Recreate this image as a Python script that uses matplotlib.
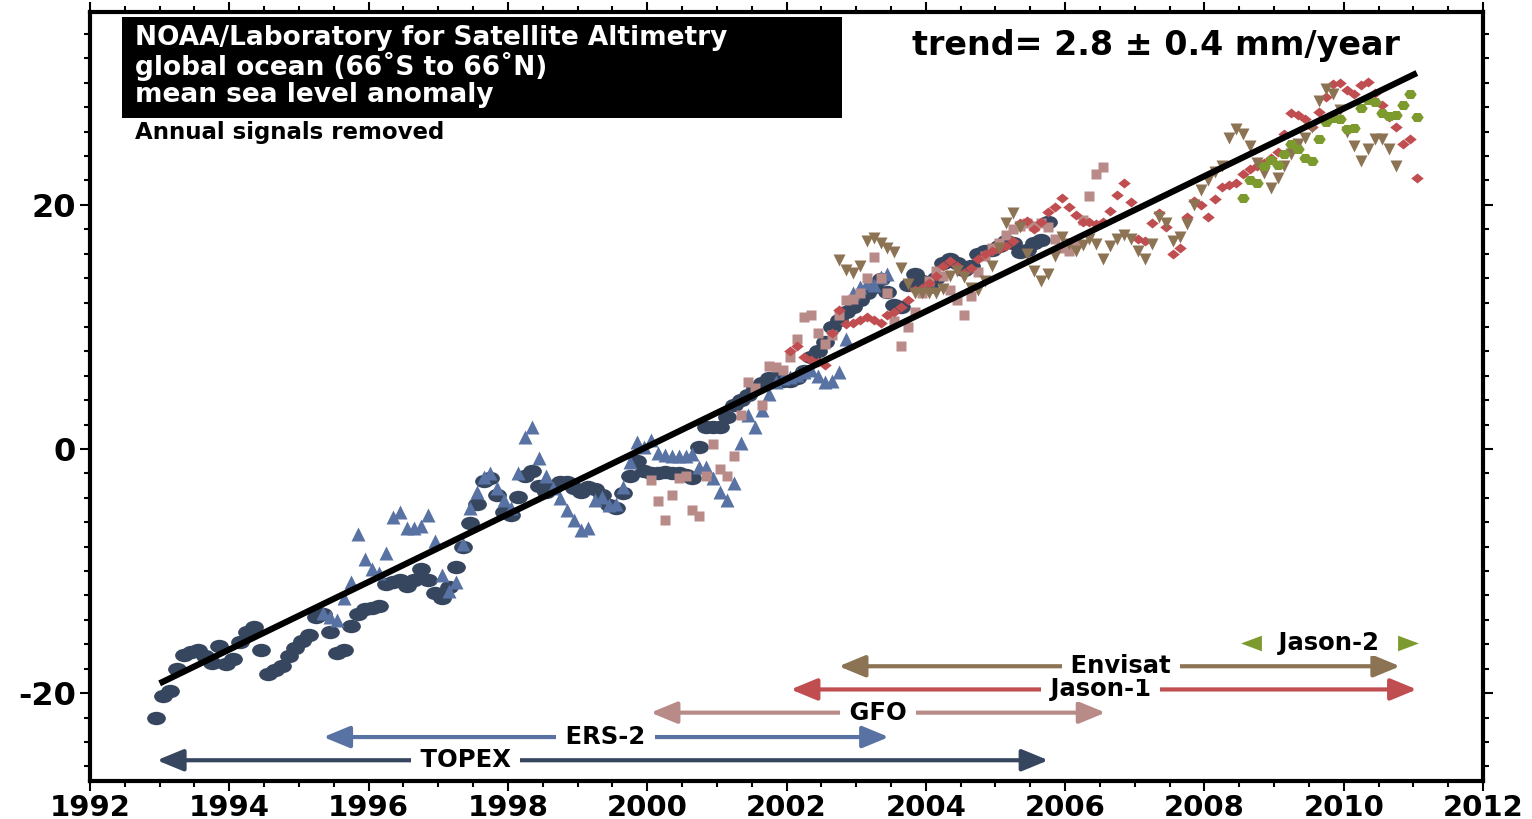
import numpy as np
import matplotlib
matplotlib.use("Agg")
import matplotlib.pyplot as plt
from matplotlib.path import Path
from matplotlib.patches import Rectangle

plt.rcParams["axes.unicode_minus"] = False

# sea level anomaly (mm) per satellite at 0.1 year steps
step = 0.1

topex_start = 1992.95
topex = [-22.0, -20.2, -19.8, -18.0, -16.9, -16.6, -16.5, -17.0, -17.5, -16.1,
         -17.6, -17.2, -15.8, -15.0, -14.6, -16.5, -18.4, -18.1, -17.8, -17.0,
         -16.3, -15.7, -15.2, -13.8, -13.5, -15.0, -16.7, -16.5, -14.5, -13.5,
         -13.1, -13.0, -12.9, -11.1, -10.9, -10.7, -11.2, -10.7, -9.8, -10.7,
         -11.8, -12.2, -11.3, -9.7, -8.0, -6.1, -4.5, -2.6, -2.4, -3.8,
         -5.2, -5.4, -3.9, -2.2, -1.8, -3.0, -3.5, -3.2, -2.7, -2.7,
         -3.2, -3.5, -3.1, -3.3, -3.8, -4.6, -4.8, -3.6, -2.2, -1.0,
         -1.8, -2.0, -2.0, -1.9, -2.0, -2.0, -2.1, -2.4, 0.2, 1.8,
         1.8, 1.8, 2.6, 3.6, 4.0, 4.4, 5.0, 5.4, 5.8, 5.9,
         5.6, 5.6, 5.8, 6.4, 7.5, 8.0, 8.8, 10.0, 10.6, 11.2,
         11.6, 12.2, 12.8, 13.3, 13.9, 12.9, 11.8, 11.6, 13.4, 14.3,
         13.8, 13.3, 14.0, 15.2, 15.6, 15.2, 14.7, 15.0, 16.0, 16.2,
         16.3, 16.6, 17.0, 16.9, 16.1, 16.3, 16.9, 17.1, 18.6]

ers2_start = 1995.35
ers2 = [-13.4, -13.8, -14.0, -12.2, -10.9, -7.0, -9.0, -9.8, -10.2, -8.5,
        -5.6, -5.2, -6.5, -6.5, -6.3, -5.4, -7.5, -10.3, -11.6, -10.9,
        -7.8, -4.8, -3.5, -2.3, -2.0, -3.2, -4.2, -4.8, -2.0, 1.0,
        1.8, -0.7, -2.2, -3.2, -4.0, -5.0, -5.8, -6.6, -6.5, -4.2,
        -3.9, -4.6, -4.5, -3.1, -1.1, 0.6, 0.2, 0.7, -0.3, -0.5,
        -0.6, -0.6, -0.6, -0.4, -1.5, -1.5, -2.4, -3.5, -4.2, -2.8,
        0.5, 2.8, 1.8, 3.2, 4.5, 5.5, 5.8, 5.9, 6.1, 6.3,
        6.5, 6.0, 5.5, 5.6, 6.3, 9.0, 12.8, 13.3, 13.6, 13.4,
        14.1, 14.3]

gfo_start = 2000.05
gfo = [-2.5, -4.3, -5.8, -3.8, -2.4, -2.2, -5.0, -5.5, -2.2, 0.4,
       -1.6, -2.2, -0.6, 2.8, 5.5, 5.0, 3.6, 6.8, 6.7, 6.5,
       7.5, 9.0, 10.8, 11.0, 9.5, 8.6, 9.3, 11.0, 12.2, 12.3,
       12.8, 14.0, 15.7, 14.0, 12.8, 10.5, 8.4, 10.0, 11.2, 12.8,
       13.8, 14.6, 14.2, 13.0, 12.2, 11.0, 12.5, 14.5, 15.8, 16.5,
       16.9, 17.5, 18.0, 18.3, 18.5, 18.3, 18.5, 18.2, 17.2, 16.5,
       16.2, 16.9, 18.8, 20.7, 22.5, 23.1]

jason1_start = 2002.05
jason1 = [8.0, 8.4, 7.5, 7.3, 7.1, 6.9, 9.5, 11.4, 10.2, 10.3,
          10.6, 10.8, 10.6, 10.3, 11.0, 11.2, 11.6, 12.2, 13.0, 13.2,
          13.6, 14.2, 15.0, 15.4, 15.0, 14.4, 14.8, 15.6, 16.0, 16.2,
          16.4, 16.6, 17.0, 18.5, 18.7, 18.0, 18.6, 19.4, 19.8, 20.6,
          19.8, 19.2, 18.6, 18.6, 18.4, 18.6, 19.5, 20.8, 21.8, 20.2,
          17.2, 17.0, 18.5, 19.3, 18.2, 16.0, 16.5, 19.0, 20.3, 20.0,
          19.0, 20.5, 21.5, 21.6, 21.8, 22.5, 22.9, 23.2, 23.4, 23.8,
          24.3, 25.8, 27.5, 27.4, 27.0, 26.4, 27.6, 28.8, 29.9, 30.0,
          29.4, 29.1, 29.8, 30.1, 29.2, 28.2, 27.2, 26.4, 25.0, 25.4,
          22.2]

envisat_start = 2002.75
envisat = [15.5, 14.7, 14.4, 15.0, 17.0, 17.3, 16.9, 16.5, 16.1, 14.8,
           13.5, 12.8, 12.8, 12.8, 12.8, 13.1, 14.2, 14.6, 14.1, 13.2,
           13.0, 13.8, 15.0, 16.5, 18.5, 19.3, 18.2, 16.0, 14.6, 13.8,
           14.3, 15.8, 17.4, 16.8, 16.2, 16.7, 17.2, 16.8, 15.6, 16.6,
           17.2, 17.5, 17.2, 16.2, 15.6, 16.8, 19.0, 18.5, 17.0, 17.4,
           18.4, 20.0, 21.2, 22.0, 22.7, 23.2, 25.5, 26.2, 25.8, 24.8,
           23.4, 22.6, 21.4, 22.2, 23.2, 24.2, 25.0, 25.5, 26.4, 28.5,
           29.5, 29.1, 27.8, 26.0, 24.8, 23.6, 24.6, 25.4, 25.4, 24.6,
           23.2]

jason2_start = 2008.55
jason2 = [20.6, 22.0, 21.8, 23.2, 23.7, 23.3, 24.2, 25.0, 24.6, 23.8,
          23.6, 25.4, 26.8, 27.1, 27.0, 26.2, 26.3, 27.9, 28.6, 28.4,
          27.5, 27.3, 27.4, 28.2, 29.1, 27.2]

trend_years = [1993.0, 2011.05]
trend_vals = [-19.2, 30.8]

# mission timelines at the bottom
missions = ["TOPEX", "ERS-2", "GFO", "Jason-1", "Envisat", "Jason-2"]
mission_from = [1992.96, 1995.35, 2000.05, 2002.06, 2002.75, 2008.55]
mission_to = [2005.76, 2003.47, 2006.58, 2011.05, 2010.81, 2011.05]
mission_row = [-25.5, -23.6, -21.6, -19.7, -17.8, -15.9]
mission_label_x = [1997.39, 1999.4, 2003.31, 2006.51, 2006.8, 2009.79]

c_topex = "#37465f"
c_ers2 = "#5872a3"
c_gfo = "#b98b88"
c_jason1 = "#c04e50"
c_envisat = "#8c7354"
c_jason2 = "#7d9a2e"
colors = [c_topex, c_ers2, c_gfo, c_jason1, c_envisat, c_jason2]


def stretched(verts, sx):
    v = np.array(verts, dtype=float)
    v[:, 0] *= sx
    return Path(v)


circ = Path.unit_circle()
ellipse = Path(circ.vertices * [1.4, 1.0], circ.codes)
diamond = stretched([(0, 1), (1, 0), (0, -1), (-1, 0), (0, 1)], 1.25)
hexagon = stretched([(np.cos(a), np.sin(a)) for a in np.radians(np.arange(0, 361, 60))], 1.2)
tri_left = stretched([(-1, 0), (1, 0.75), (1, -0.75), (-1, 0)], 1.0)
tri_right = stretched([(1, 0), (-1, 0.75), (-1, -0.75), (1, 0)], 1.0)

fig = plt.figure(figsize=(15.32, 8.19), dpi=100)
ax = fig.add_axes([90 / 1532, 1 - 781 / 819, 1393 / 1532, 769 / 819])


def series(start, vals, marker, ms, color):
    t = start + step * np.arange(len(vals))
    ax.plot(t, vals, ls="none", marker=marker, ms=ms, mec="none", color=color, zorder=3)


series(topex_start, topex, ellipse, 13.5, c_topex)
series(ers2_start, ers2, "^", 9.5, c_ers2)
series(gfo_start, gfo, "s", 7, c_gfo)
series(jason1_start, jason1, diamond, 9, c_jason1)
series(envisat_start, envisat, "v", 8.5, c_envisat)
series(jason2_start, jason2, hexagon, 9, c_jason2)

ax.plot(trend_years, trend_vals, color="black", lw=4.5, solid_capstyle="butt", zorder=6)

for name, a, b, yy, lx, c in zip(missions, mission_from, mission_to, mission_row,
                                  mission_label_x, colors):
    if name == "Jason-2":
        ax.plot([a + 0.12], [yy], marker=tri_left, ms=15, mec="none", color=c, zorder=4)
        ax.plot([b - 0.12], [yy], marker=tri_right, ms=15, mec="none", color=c, zorder=4)
    else:
        ax.annotate("", xy=(b, yy), xytext=(a, yy),
                    arrowprops=dict(arrowstyle="<|-|>,head_length=0.8,head_width=0.33",
                                    color=c, lw=3, shrinkA=0, shrinkB=0,
                                    mutation_scale=20), zorder=4)
    ax.text(lx, yy, " " + name + " ", ha="center", va="center", fontsize=17.5,
            fontweight="bold", zorder=5, bbox=dict(fc="white", ec="none", pad=0.5))

ax.add_patch(Rectangle((0.023, 0.862), 0.517, 0.131, transform=ax.transAxes,
                       fc="black", ec="none", zorder=7))
title_lines = ["NOAA/Laboratory for Satellite Altimetry",
               "global ocean (66˚S to 66˚N)",
               "mean sea level anomaly"]
for line, yy in zip(title_lines, [0.966, 0.929, 0.892]):
    ax.text(0.0323, yy, line, transform=ax.transAxes, color="white", fontsize=19,
            fontweight="bold", va="center", ha="left", zorder=8)
ax.text(0.0323, 0.843, "Annual signals removed", transform=ax.transAxes,
        fontsize=16.5, fontweight="bold", va="center", ha="left")
ax.text(0.765, 0.957, "trend= 2.8 ± 0.4 mm/year", transform=ax.transAxes,
        fontsize=24, fontweight="bold", va="center", ha="center")

ax.set_xlim(1992, 2012)
ax.set_ylim(-27.2, 35.8)
ax.set_xticks(np.arange(1992, 2013, 2))
ax.set_xticks(np.arange(1992, 2012.1, 0.5), minor=True)
ax.set_yticks([-20, 0, 20])
ax.set_yticks(np.arange(-26, 36, 2), minor=True)
ax.tick_params(which="both", direction="out", top=True, right=True, width=1.5)
ax.tick_params(which="major", length=7, labelsize=21, pad=2)
ax.tick_params(axis="y", which="major", labelsize=23, pad=3)
ax.tick_params(which="minor", length=4)
for lbl in ax.get_xticklabels() + ax.get_yticklabels():
    lbl.set_fontweight("bold")
for sp in ax.spines.values():
    sp.set_linewidth(3)

fig.savefig("out.png", dpi=100)
